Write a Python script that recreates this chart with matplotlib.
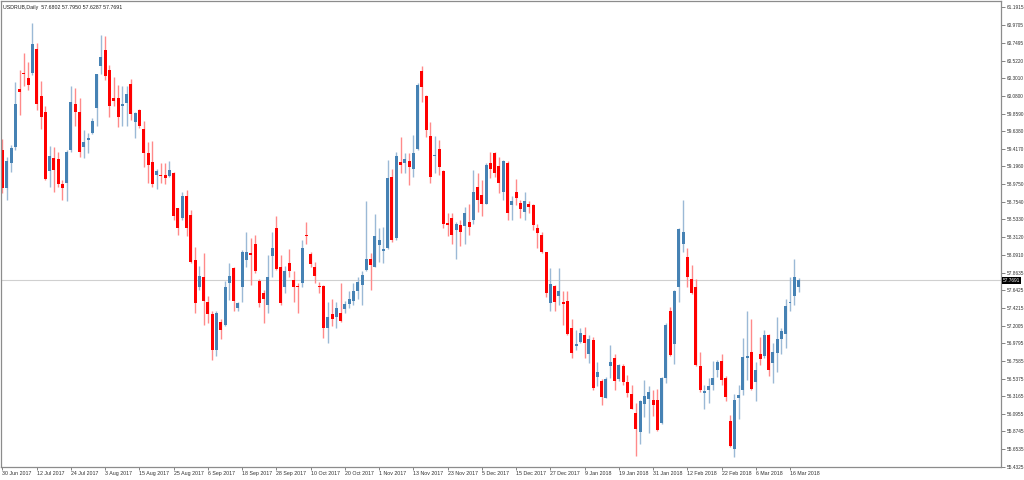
import pandas as pd
import matplotlib
matplotlib.use("Agg")
import matplotlib.pyplot as plt
import matplotlib.transforms as mtrans

plt.rcParams['font.family'] = ['Liberation Sans', 'DejaVu Sans']

# daily bars 30 Jun 2017 .. 20 Mar 2018 (no bar on 1 Jan 2018)
dates = pd.bdate_range("2017-06-30", "2018-03-20")
dates = dates[dates != pd.Timestamp("2018-01-01")]

opens = [
    59.40, 58.92, 59.24, 59.44, 60.17, 60.37, 60.30, 60.37, 60.67, 60.08,
    59.88, 59.14, 59.30, 59.29, 58.97, 58.99, 59.40, 59.98, 59.88, 59.44,
    59.53, 59.62, 59.93, 60.46, 60.66, 60.41, 60.06, 60.05, 59.95, 59.99,
    60.23, 59.75, 59.90, 59.67, 59.37, 59.25, 59.09, 59.09, 59.09, 59.08,
    59.11, 58.67, 58.55, 58.82, 58.59, 58.02, 57.69, 57.81, 57.50, 57.35,
    56.90, 57.25, 57.21, 57.73, 57.92, 57.42, 57.68, 58.02, 58.11, 58.23,
    57.76, 57.61, 57.46, 58.07, 58.43, 57.94, 57.69, 57.98, 57.77, 57.70,
    57.73, 58.33, 58.10, 57.94, 57.70, 57.70, 57.17, 57.35, 57.31, 57.36,
    57.41, 57.47, 57.51, 57.63, 57.71, 57.90, 58.03, 57.94, 58.21, 58.14,
    58.17, 59.06, 58.30, 59.25, 59.24, 59.27, 59.17, 59.42, 60.39, 60.08,
    59.58, 59.33, 59.42, 59.14, 58.49, 58.55, 58.40, 58.46, 58.45, 58.50,
    58.52, 58.94, 58.84, 58.73, 59.24, 59.36, 59.20, 58.88, 59.24, 58.71,
    58.87, 58.74, 58.63, 58.73, 58.71, 58.43, 58.34, 58.12, 57.48, 57.70,
    57.57, 57.50, 57.51, 57.17, 56.95, 56.99, 57.08, 56.85, 57.02, 56.56,
    56.51, 56.30, 56.69, 56.79, 56.53, 56.70, 56.49, 56.34, 56.11, 55.87,
    56.22, 56.28, 56.27, 56.27, 55.98, 56.54, 57.38, 56.97, 57.68, 58.22,
    58.06, 57.79, 57.68, 56.69, 56.36, 56.39, 56.46, 56.64, 56.76, 56.54,
    56.00, 55.66, 56.30, 56.40, 56.80, 56.87, 56.49, 56.85, 56.82, 57.08,
    56.73, 56.86, 57.03, 57.10, 57.49, 57.57, 57.6802,
]
highs = [
    59.54, 59.32, 59.46, 60.25, 60.41, 60.62, 60.51, 60.99, 60.74, 60.27,
    59.95, 59.45, 59.44, 59.38, 59.03, 59.40, 60.20, 60.18, 60.06, 59.65,
    59.62, 59.80, 60.36, 60.84, 60.83, 60.47, 60.32, 60.22, 60.21, 60.20,
    60.29, 59.88, 59.92, 59.76, 59.50, 59.51, 59.17, 59.24, 59.24, 59.27,
    59.13, 58.68, 58.88, 58.90, 58.65, 58.19, 57.95, 58.11, 57.57, 57.38,
    57.38, 57.28, 57.76, 57.98, 57.94, 57.50, 58.15, 58.37, 58.30, 58.34,
    57.79, 57.65, 58.09, 58.37, 58.58, 58.09, 57.95, 58.16, 57.88, 57.73,
    58.27, 58.50, 58.12, 58.00, 57.75, 57.71, 57.50, 57.54, 57.50, 57.73,
    57.51, 57.64, 57.73, 57.81, 57.88, 58.76, 58.11, 58.60, 58.43, 58.44,
    59.28, 59.16, 59.38, 59.57, 59.36, 59.36, 59.59, 60.24, 60.45, 60.09,
    59.75, 59.58, 59.53, 59.15, 58.61, 58.61, 58.50, 58.53, 58.69, 58.73,
    59.15, 59.11, 59.03, 59.24, 59.38, 59.38, 59.32, 59.28, 59.26, 58.82,
    59.04, 58.78, 58.87, 58.76, 58.72, 58.48, 58.38, 58.13, 57.92, 57.71,
    57.92, 57.63, 57.63, 57.28, 57.15, 57.17, 57.18, 57.08, 57.06, 56.75,
    56.53, 56.56, 56.96, 56.85, 56.72, 56.72, 56.58, 56.46, 56.23, 56.27,
    56.52, 56.44, 56.39, 56.41, 56.56, 57.23, 57.44, 57.65, 58.42, 58.77,
    58.17, 57.96, 57.79, 56.87, 56.46, 56.54, 56.76, 56.77, 56.85, 56.57,
    56.08, 56.34, 56.46, 57.05, 57.38, 57.29, 56.75, 57.06, 57.15, 57.10,
    56.98, 57.31, 57.17, 57.53, 57.81, 58.03, 57.7950,
]
lows = [
    58.86, 58.78, 59.13, 59.40, 59.84, 60.20, 60.16, 60.34, 59.90, 59.66,
    59.03, 58.94, 58.88, 58.94, 58.78, 58.76, 59.38, 59.70, 59.32, 59.30,
    59.36, 59.60, 59.70, 60.36, 60.28, 59.82, 59.95, 59.69, 59.70, 59.70,
    59.78, 59.55, 59.68, 59.19, 58.99, 58.94, 58.91, 58.99, 58.98, 59.07,
    58.53, 58.34, 58.53, 58.32, 57.98, 57.36, 57.65, 57.21, 57.23, 56.77,
    56.82, 57.03, 57.20, 57.52, 57.39, 57.38, 57.50, 57.94, 57.71, 57.86,
    57.43, 57.24, 57.36, 57.81, 57.90, 57.46, 57.61, 57.81, 57.50, 57.36,
    57.68, 58.23, 57.94, 57.74, 57.61, 57.04, 56.98, 57.20, 57.17, 57.25,
    57.36, 57.42, 57.46, 57.53, 57.46, 57.88, 57.65, 57.93, 58.00, 57.98,
    58.16, 58.25, 58.27, 59.11, 59.11, 58.96, 59.07, 59.40, 60.01, 59.56,
    58.99, 59.11, 59.09, 58.42, 58.32, 58.23, 58.03, 58.20, 58.23, 58.34,
    58.48, 58.63, 58.57, 58.73, 59.05, 59.07, 58.86, 58.78, 58.52, 58.53,
    58.71, 58.55, 58.53, 58.61, 58.40, 58.18, 58.11, 57.56, 57.38, 57.39,
    57.46, 57.21, 57.08, 56.79, 56.90, 56.98, 56.80, 56.73, 56.40, 56.44,
    56.21, 56.29, 56.55, 56.40, 56.51, 56.46, 56.31, 56.15, 55.57, 55.72,
    56.06, 55.86, 56.07, 55.88, 55.97, 56.48, 56.82, 56.72, 57.50, 58.12,
    57.69, 57.60, 56.69, 56.37, 56.16, 56.23, 56.39, 56.56, 56.46, 56.25,
    55.68, 55.55, 56.03, 56.33, 56.52, 56.40, 56.25, 56.71, 56.79, 56.57,
    56.48, 56.62, 56.85, 56.92, 57.38, 57.46, 57.6287,
]
closes = [
    58.92, 59.27, 59.43, 59.98, 60.13, 60.35, 60.22, 60.73, 59.98, 59.81,
    59.04, 59.33, 59.15, 58.98, 58.92, 59.38, 60.01, 59.88, 59.38, 59.50,
    59.55, 59.77, 60.35, 60.57, 60.33, 59.95, 60.02, 59.82, 59.98, 60.11,
    59.85, 59.86, 59.70, 59.37, 59.22, 58.98, 59.14, 59.08, 59.05, 59.15,
    58.57, 58.43, 58.82, 58.42, 58.00, 57.49, 57.82, 57.51, 57.35, 56.89,
    57.36, 57.15, 57.69, 57.82, 57.51, 57.49, 58.12, 58.13, 58.09, 57.88,
    57.48, 57.54, 57.81, 58.18, 57.91, 57.49, 57.89, 57.89, 57.68, 57.69,
    58.17, 58.32, 57.97, 57.82, 57.68, 57.17, 57.31, 57.29, 57.42, 57.26,
    57.47, 57.54, 57.64, 57.75, 57.84, 58.04, 57.96, 58.32, 58.28, 58.16,
    59.05, 58.27, 59.33, 59.22, 59.29, 59.19, 59.36, 60.22, 60.19, 59.65,
    59.06, 59.34, 59.19, 58.48, 58.46, 58.34, 58.48, 58.37, 58.61, 58.44,
    58.88, 58.78, 58.73, 59.21, 59.16, 59.12, 58.99, 59.27, 58.61, 58.76,
    58.80, 58.66, 58.76, 58.69, 58.46, 58.36, 58.12, 57.61, 57.72, 57.50,
    57.64, 57.47, 57.10, 56.86, 56.97, 57.11, 56.98, 57.03, 56.42, 56.62,
    56.31, 56.53, 56.75, 56.51, 56.71, 56.49, 56.36, 56.16, 55.91, 56.26,
    56.32, 56.37, 56.21, 55.89, 56.55, 57.21, 56.83, 57.63, 58.41, 58.38,
    57.81, 57.61, 56.71, 56.39, 56.38, 56.44, 56.54, 56.75, 56.52, 56.31,
    55.69, 56.27, 56.33, 56.81, 56.82, 56.41, 56.64, 56.78, 57.08, 56.64,
    56.87, 57.03, 57.13, 57.45, 57.50, 57.81, 57.7691,
]

price_ticks = [61.1915, 60.9705, 60.7495, 60.5220, 60.3010, 60.0800, 59.8590,
               59.6380, 59.4170, 59.1960, 58.9750, 58.7540, 58.5330, 58.3120,
               58.0910, 57.8635, 57.6425, 57.4215, 57.2005, 56.9795, 56.7585,
               56.5375, 56.3165, 56.0955, 55.8745, 55.6535, 55.4325]
last_price = 57.7691
title = "USDRUB,Daily  57.6802 57.7950 57.6287 57.7691"

up_body, down_body = '#4682B4', '#FF0000'
up_wick, down_wick = '#9BB9D6', '#FF8A8A'
small = 3.8
scale_size = 3.4

fig = plt.figure(figsize=(10.24, 4.8), dpi=100)
ax = fig.add_axes([1/1024, 13/480, 1000/1024, 466/480])

x = list(range(len(opens)))
up = [c >= o for o, c in zip(opens, closes)]
bottoms = [min(o, c) for o, c in zip(opens, closes)]
heights = [max(abs(c - o), 0.012) for o, c in zip(opens, closes)]

ax.axhline(last_price, color='#D0D0D0', lw=0.8, zorder=0)
ax.vlines(x, lows, highs, colors=[up_wick if u else down_wick for u in up],
          linewidth=1.0, zorder=1)
ax.bar(x, heights, bottom=bottoms, width=0.7, linewidth=0, zorder=2,
       color=[up_body if u else down_body for u in up])

ax.set_xlim(-0.35, 233.3)
ax.set_ylim(55.429, 61.27)

# right price scale
ax.yaxis.tick_right()
ax.set_yticks(price_ticks)
ax.set_yticklabels([f"{p:.4f}" for p in price_ticks])
ax.tick_params(axis='y', direction='out', length=3, width=0.6, color='#707070',
               labelsize=scale_size, labelcolor='#303030', pad=0.8)

# date scale, one label every 8 bars
tick_idx = list(range(0, len(dates), 8))
ax.set_xticks(tick_idx)
ax.set_xticklabels([f"{dates[i].day} {dates[i].strftime('%b %Y')}" for i in tick_idx],
                   ha='left')
ax.tick_params(axis='x', direction='out', length=2, width=0.6, color='#707070',
               labelsize=small, labelcolor='#303030', pad=1)

for s in ax.spines.values():
    s.set_color('#8C8C8C')
    s.set_linewidth(0.9)

# last price marker on the scale
trans = mtrans.blended_transform_factory(ax.transAxes, ax.transData)
ax.text(1.002, last_price, f"{last_price:.4f}", transform=trans, ha='left',
        va='center', fontsize=scale_size, color='white',
        bbox=dict(facecolor='black', edgecolor='none', pad=0.6))

ax.text(0.002, 0.987, title, transform=ax.transAxes, ha='left', va='center',
        fontsize=small, color='#202020')

fig.savefig('out.png', dpi=100, facecolor='white')
